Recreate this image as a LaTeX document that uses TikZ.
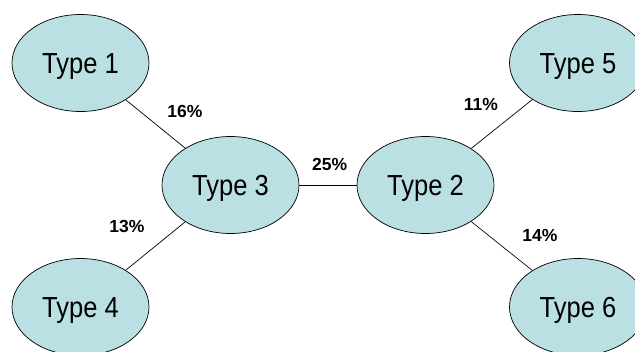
\documentclass[tikz,border=0pt]{standalone}
\usepackage{fontspec}
\setmainfont{Liberation Sans}
\newfontfamily\typefont[FakeStretch=0.88]{Liberation Sans}
\usetikzlibrary{shapes.geometric}
\definecolor{typefill}{RGB}{187,224,227}
\begin{document}
\begin{tikzpicture}[x=1pt,y=-1pt,
  typebox/.style={ellipse, draw=black, fill=typefill, line width=0.7pt,
    minimum width=137pt, minimum height=97pt, inner sep=0pt,
    text height=20.8pt, text depth=0pt,
    font=\typefont\fontsize{29}{31}\selectfont},
  pct/.style={font=\bfseries\fontsize{17.5}{19}\selectfont, inner sep=0pt,
    text height=12.5pt, text depth=0pt},
  link/.style={line width=0.7pt}]
\useasboundingbox (0,0) rectangle (635,351);
\path[clip] (0,0) rectangle (635,351);
\node[typebox] (t3) at (230.5,185) {Type 3};
\node[typebox] (t2) at (425.5,185) {Type 2};
\node[typebox] (t1) at (80.5,63) {Type 1};
\node[typebox] (t4) at (80.5,307) {Type 4};
\node[typebox] (t5) at (578,63) {Type 5};
\node[typebox] (t6) at (578,307) {Type 6};
\draw[link] (t1) -- (t3);
\draw[link] (t4) -- (t3);
\draw[link] (t3) -- (t2);
\draw[link] (t2) -- (t5);
\draw[link] (t2) -- (t6);
\node[pct] (p16) at (185,111.3) {16\%};
\node[pct] (p11) at (481,104.3) {11\%};
\node[pct] (p25) at (329.7,164.3) {25\%};
\node[pct] (p13) at (127,226.3) {13\%};
\node[pct] (p14) at (540,235.3) {14\%};
\end{tikzpicture}
\end{document}
